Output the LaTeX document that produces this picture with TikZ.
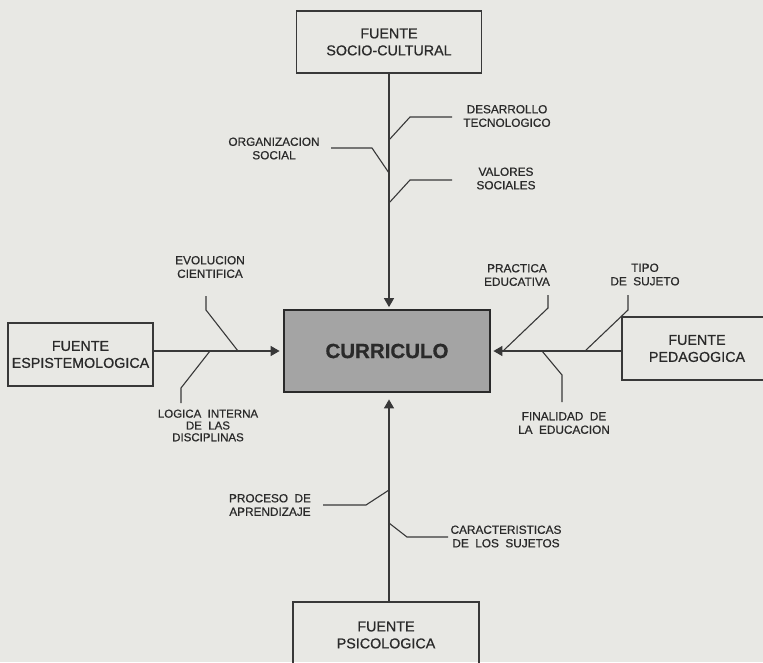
\documentclass[tikz,border=0pt]{standalone}
\usepackage{fontspec}
\setmainfont[FakeBold=0.7]{Liberation Sans}
\usetikzlibrary{arrows.meta}
\definecolor{paper}{HTML}{E8E8E4}
\definecolor{ink}{HTML}{383838}
\definecolor{textc}{HTML}{2A2A2A}
\definecolor{curfill}{HTML}{A4A4A4}
\newcommand{\wgap}{\hspace{0.55em}}
\begin{document}
\begin{tikzpicture}[x=1pt,y=-1pt,
  srcbox/.style={draw=ink, line width=1.5pt, align=center, inner sep=0pt,
    text=textc, font=\fontsize{14.3}{17}\selectfont},
  curbox/.style={draw=textc, line width=2.8pt, fill=curfill, inner sep=0pt,
    text=textc, font=\bfseries\fontsize{20.5}{24}\selectfont,
    minimum width=206pt, minimum height=82pt},
  lbl/.style={align=center, inner sep=0pt, text=textc,
    font=\fontsize{11.8}{13.5}\selectfont},
  mainline/.style={draw=ink, line width=1.4pt,
    -{Triangle[length=9pt,width=10pt]}},
  branch/.style={draw=ink, line width=1.1pt}]
\path[use as bounding box, fill=paper] (0,0) rectangle (763,662);
\clip (0,0) rectangle (763,662);

% boxes
\node[curbox] (cur) at (387,351) {CURRICULO};
\node[srcbox, minimum width=185pt, minimum height=62pt] (soc) at (389,42)
  {FUENTE\\SOCIO-CULTURAL};
\node[srcbox, minimum width=145pt, minimum height=63pt] (epi) at (80.5,354.5)
  {FUENTE\\ESPISTEMOLOGICA};
\node[srcbox, minimum width=150pt, minimum height=63pt] (ped) at (697,348.5)
  {FUENTE\\PEDAGOGICA};
\node[srcbox, minimum width=186pt, minimum height=66pt] (psi) at (386,635)
  {FUENTE\\PSICOLOGICA};

% main connectors
\draw[mainline, shorten >=1.5pt] (soc.south) -- (soc.south |- cur.north);
\draw[mainline, shorten >=6pt] (psi.north -| soc.south) -- (soc.south |- cur.south);
\draw[mainline, shorten >=3pt] (epi.east |- cur.west) -- (cur.west);
\draw[mainline, shorten >=2pt] (ped.west |- cur.east) -- (cur.east);

% branch points
\coordinate (bdes) at (389,140);
\coordinate (borg) at (389,173);
\coordinate (bval) at (389,203);
\coordinate (bevo) at (238,351);
\coordinate (blog) at (210,351);
\coordinate (bpra) at (503,351);
\coordinate (btip) at (585,351);
\coordinate (bfin) at (542,351);
\coordinate (bpro) at (389,490);
\coordinate (bcar) at (389,523);

% labels
\node[lbl] (ldes) at (507,116) {DESARROLLO\\TECNOLOGICO};
\node[lbl] (lorg) at (274,148.5) {ORGANIZACION\\SOCIAL};
\node[lbl] (lval) at (506,178.5) {VALORES\\SOCIALES};
\node[lbl] (levo) at (210,267) {EVOLUCION\\CIENTIFICA};
\node[lbl, font=\fontsize{11.5}{11.8}\selectfont] (llog) at (208,425.5)
  {LOGICA\wgap INTERNA\\DE\wgap LAS\\DISCIPLINAS};
\node[lbl] (lpra) at (517,275) {PRACTICA\\EDUCATIVA};
\node[lbl] (ltip) at (645,274.5) {TIPO\\DE\wgap SUJETO};
\node[lbl] (lfin) at (564,423) {FINALIDAD\wgap DE\\LA\wgap EDUCACION};
\node[lbl] (lpro) at (270,505) {PROCESO\wgap DE\\APRENDIZAJE};
\node[lbl] (lcar) at (506,536.5) {CARACTERISTICAS\\DE\wgap LOS\wgap SUJETOS};

% branches
\draw[branch] (bdes) -- (410,117) -- (452,117);
\draw[branch] (borg) -- (372,148) -- (331,148);
\draw[branch] (bval) -- (410,180) -- (452,180);
\draw[branch] (bevo) -- (206,310) -- (206,296);
\draw[branch] (blog) -- (181,388) -- (181,403);
\draw[branch] (bpra) -- (548,308) -- (548,295);
\draw[branch] (btip) -- (628,310) -- (628,295);
\draw[branch] (bfin) -- (562,375) -- (562,402);
\draw[branch] (bpro) -- (366,505) -- (323,505);
\draw[branch] (bcar) -- (407,537) -- (448,537);
\end{tikzpicture}
\end{document}
